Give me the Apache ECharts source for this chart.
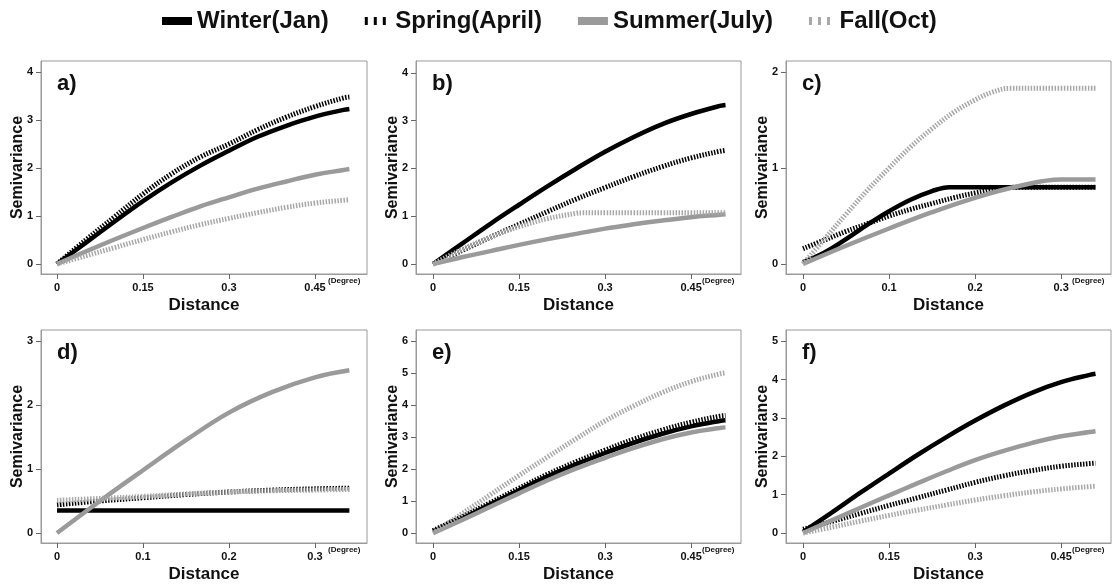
<!DOCTYPE html>
<html>
<head>
<meta charset="utf-8">
<script src="https://cdn.jsdelivr.net/npm/echarts@6/dist/echarts.min.js"></script>
<style>
  html, body { margin: 0; padding: 0; background: #fff; }
  #chart { width: 1117px; height: 584px; }
</style>
</head>
<body>
<div id="chart"></div>
<script>
const seasons = ['Winter(Jan)', 'Spring(April)', 'Summer(July)', 'Fall(Oct)'];

// distances (degree)
const distLong = [0, 0.05, 0.1, 0.15, 0.2, 0.25, 0.3, 0.35, 0.4, 0.45, 0.5, 0.51];
const distD = [0, 0.05, 0.1, 0.15, 0.2, 0.25, 0.3, 0.34];
const distCWinter = [0, 0.025, 0.05, 0.075, 0.1, 0.125, 0.15, 0.17, 0.2, 0.25, 0.3, 0.34];
const distCSpring = [0, 0.025, 0.05, 0.075, 0.1, 0.125, 0.15, 0.175, 0.2, 0.225, 0.25, 0.3, 0.34];
const distCSummer = [0, 0.05, 0.1, 0.15, 0.2, 0.25, 0.3, 0.34];
const distCFall = [0, 0.025, 0.05, 0.075, 0.1, 0.125, 0.15, 0.175, 0.2, 0.22, 0.24, 0.28, 0.34];
const distBFall = [0, 0.05, 0.1, 0.15, 0.2, 0.25, 0.26, 0.3, 0.35, 0.4, 0.45, 0.5, 0.51];

// a)
const aWinter = [0, 0.44, 0.88, 1.31, 1.70, 2.05, 2.36, 2.65, 2.88, 3.07, 3.21, 3.23];
const aSpring = [0, 0.50, 0.98, 1.46, 1.88, 2.23, 2.50, 2.80, 3.06, 3.28, 3.46, 3.48];
const aSummer = [0, 0.26, 0.51, 0.75, 0.98, 1.20, 1.39, 1.57, 1.72, 1.86, 1.96, 1.98];
const aFall = [0, 0.17, 0.34, 0.51, 0.67, 0.82, 0.95, 1.07, 1.18, 1.27, 1.33, 1.34];
// b)
const bWinter = [0, 0.42, 0.84, 1.24, 1.63, 2.00, 2.35, 2.66, 2.93, 3.14, 3.31, 3.33];
const bSpring = [0, 0.28, 0.56, 0.83, 1.10, 1.36, 1.60, 1.83, 2.04, 2.22, 2.36, 2.38];
const bSummer = [0, 0.14, 0.27, 0.40, 0.52, 0.63, 0.74, 0.83, 0.91, 0.98, 1.03, 1.04];
const bFall = [0, 0.30, 0.56, 0.78, 0.95, 1.06, 1.07, 1.07, 1.07, 1.07, 1.07, 1.07, 1.07];
// c)
const cWinter = [0.02, 0.12, 0.26, 0.41, 0.55, 0.67, 0.76, 0.80, 0.80, 0.80, 0.80, 0.80];
const cSpring = [0.16, 0.25, 0.34, 0.42, 0.50, 0.57, 0.63, 0.69, 0.74, 0.78, 0.80, 0.80, 0.80];
const cSummer = [0, 0.19, 0.37, 0.54, 0.69, 0.81, 0.88, 0.88];
const cFall = [0, 0.26, 0.52, 0.77, 1.00, 1.22, 1.41, 1.58, 1.71, 1.79, 1.83, 1.83, 1.83];
// d)
const dWinter = [0.35, 0.35, 0.35, 0.35, 0.35, 0.35, 0.35, 0.35];
const dSpring = [0.44, 0.50, 0.55, 0.60, 0.64, 0.67, 0.69, 0.70];
const dSummer = [0, 0.50, 0.98, 1.45, 1.88, 2.20, 2.43, 2.54];
const dFall = [0.51, 0.54, 0.57, 0.61, 0.64, 0.66, 0.67, 0.68];
// e)
const eWinter = [0.05, 0.45, 0.90, 1.34, 1.77, 2.15, 2.50, 2.82, 3.10, 3.33, 3.50, 3.52];
const eSpring = [0.08, 0.50, 0.95, 1.40, 1.84, 2.23, 2.59, 2.93, 3.22, 3.46, 3.65, 3.67];
const eSummer = [0, 0.40, 0.82, 1.24, 1.65, 2.02, 2.35, 2.66, 2.93, 3.14, 3.28, 3.30];
const eFall = [0, 0.60, 1.20, 1.80, 2.38, 2.95, 3.50, 3.97, 4.39, 4.73, 4.97, 5.00];
// f)
const fWinter = [0.03, 0.53, 1.05, 1.55, 2.04, 2.50, 2.93, 3.32, 3.66, 3.93, 4.12, 4.15];
const fSpring = [0.10, 0.30, 0.51, 0.72, 0.92, 1.12, 1.32, 1.49, 1.63, 1.74, 1.81, 1.82];
const fSummer = [0, 0.33, 0.66, 0.98, 1.30, 1.61, 1.90, 2.14, 2.35, 2.52, 2.63, 2.65];
const fFall = [0, 0.15, 0.31, 0.46, 0.60, 0.73, 0.86, 0.97, 1.07, 1.15, 1.21, 1.22];

// tick labels
const ticks015 = [0, 0.15, 0.3, 0.45];
const ticks01 = [0, 0.1, 0.2, 0.3];
const panelLabels = ['a)', 'b)', 'c)', 'd)', 'e)', 'f)'];

const pair = (xs, ys) => xs.map((x, i) => [x, ys[i]]);

const panels = [
  { series: [pair(distLong, aWinter), pair(distLong, aSpring), pair(distLong, aSummer), pair(distLong, aFall)],
    xTicks: ticks015, yTicks: [0, 1, 2, 3, 4], x: [-0.0279, 0.5407], y: [-0.208, 4.229] },
  { series: [pair(distLong, bWinter), pair(distLong, bSpring), pair(distLong, bSummer), pair(distBFall, bFall)],
    xTicks: ticks015, yTicks: [0, 1, 2, 3, 4], x: [-0.0297, 0.537], y: [-0.21, 4.25] },
  { series: [pair(distCWinter, cWinter), pair(distCSpring, cSpring), pair(distCSummer, cSummer), pair(distCFall, cFall)],
    xTicks: ticks01, yTicks: [0, 1, 2], x: [-0.0198, 0.358], y: [-0.104, 2.115] },
  { series: [pair(distD, dWinter), pair(distD, dSpring), pair(distD, dSummer), pair(distD, dFall)],
    xTicks: ticks01, yTicks: [0, 1, 2, 3], x: [-0.0186, 0.3605], y: [-0.156, 3.17] },
  { series: [pair(distLong, eWinter), pair(distLong, eSpring), pair(distLong, eSummer), pair(distLong, eFall)],
    xTicks: ticks015, yTicks: [0, 1, 2, 3, 4, 5, 6], x: [-0.0297, 0.537], y: [-0.31, 6.34] },
  { series: [pair(distLong, fWinter), pair(distLong, fSpring), pair(distLong, fSummer), pair(distLong, fFall)],
    xTicks: ticks015, yTicks: [0, 1, 2, 3, 4, 5], x: [-0.0297, 0.537], y: [-0.26, 5.29] },
];

const gridPos = [
  { left: 41, top: 61, width: 326, height: 213 },
  { left: 416, top: 61, width: 325, height: 213 },
  { left: 786, top: 61, width: 325, height: 213 },
  { left: 41, top: 330, width: 326, height: 213 },
  { left: 416, top: 330, width: 325, height: 213 },
  { left: 786, top: 330, width: 325, height: 213 },
];

const seasonStyle = [
  { color: '#000000', type: 'solid', width: 4.5 },
  { color: '#000000', type: [1.5, 1.5], width: 5 },
  { color: '#9a9a9a', type: 'solid', width: 4.5 },
  { color: '#a8a8a8', type: [1.5, 1.5], width: 5 },
];

// legend glyphs: a bar for solid lines, three short bars for dotted ones
const solidIcon = 'path://M0,0h30v8h-30z';
const dottedIcon = 'path://M0,0h3v8h-3zM9,0h3v8h-3zM18,0h3v8h-3z';

const font = 'Liberation Sans';
const frameColor = '#9a9a9a';

const grids = gridPos.map(g => ({ ...g, show: true, borderColor: frameColor, borderWidth: 1, backgroundColor: '#fff' }));

const xAxes = panels.map((p, i) => ({
  gridIndex: i,
  type: 'value',
  min: p.x[0],
  max: p.x[1],
  name: 'Distance',
  nameLocation: 'middle',
  nameGap: 23,
  nameMoveOverlap: false,
  nameTextStyle: { fontFamily: font, fontWeight: 'bold', fontSize: 17, color: '#111' },
  axisLine: { onZero: false, lineStyle: { color: frameColor } },
  axisTick: { customValues: p.xTicks, length: 5, lineStyle: { color: '#666' } },
  axisLabel: { customValues: p.xTicks, margin: 8, fontFamily: font, fontWeight: 'bold', fontSize: 11, color: '#111' },
  splitLine: { show: false },
}));

const yAxes = panels.map((p, i) => ({
  gridIndex: i,
  type: 'value',
  min: p.y[0],
  max: p.y[1],
  name: 'Semivariance',
  nameLocation: 'middle',
  nameGap: 15,
  nameMoveOverlap: false,
  nameTextStyle: { fontFamily: font, fontWeight: 'bold', fontSize: 16, color: '#111' },
  axisLine: { show: true, onZero: false, lineStyle: { color: frameColor } },
  axisTick: { show: true, customValues: p.yTicks, length: 5, lineStyle: { color: '#666' } },
  axisLabel: { customValues: p.yTicks, margin: 8, fontFamily: font, fontWeight: 'bold', fontSize: 11, color: '#111' },
  splitLine: { show: false },
}));

const series = [];
panels.forEach((p, i) => {
  p.series.forEach((data, k) => {
    series.push({
      name: seasons[k],
      type: 'line',
      xAxisIndex: i,
      yAxisIndex: i,
      data: data,
      symbol: 'none',
      smooth: 0.4,
      color: seasonStyle[k].color,
      lineStyle: { color: seasonStyle[k].color, width: seasonStyle[k].width, type: seasonStyle[k].type, cap: 'butt' },
      silent: true,
      z: 2 + k,
    });
  });
});

const titles = [];
gridPos.forEach((g, i) => {
  titles.push({
    text: panelLabels[i],
    left: g.left + 16,
    top: g.top + 12,
    padding: 0,
    textStyle: { fontFamily: font, fontWeight: 'bold', fontSize: 22, color: '#111' },
  });
  titles.push({
    text: '(Degree)',
    left: g.left + g.width - 39,
    top: g.top + g.height + 3,
    padding: 0,
    textStyle: { fontFamily: font, fontWeight: 'bold', fontSize: 8, color: '#111' },
  });
});

const chart = echarts.init(document.getElementById('chart'));
chart.setOption({
  animation: false,
  backgroundColor: '#ffffff',
  title: titles,
  legend: {
    data: seasons.map((name, k) => ({ name, icon: k % 2 === 0 ? solidIcon : dottedIcon })),
    left: 157,
    top: 4,
    itemWidth: 30,
    itemHeight: 8,
    itemGap: 36,
    textStyle: { fontFamily: font, fontWeight: 'bold', fontSize: 24, color: '#111' },
  },
  grid: grids,
  xAxis: xAxes,
  yAxis: yAxes,
  series: series,
});
</script>
</body>
</html>
